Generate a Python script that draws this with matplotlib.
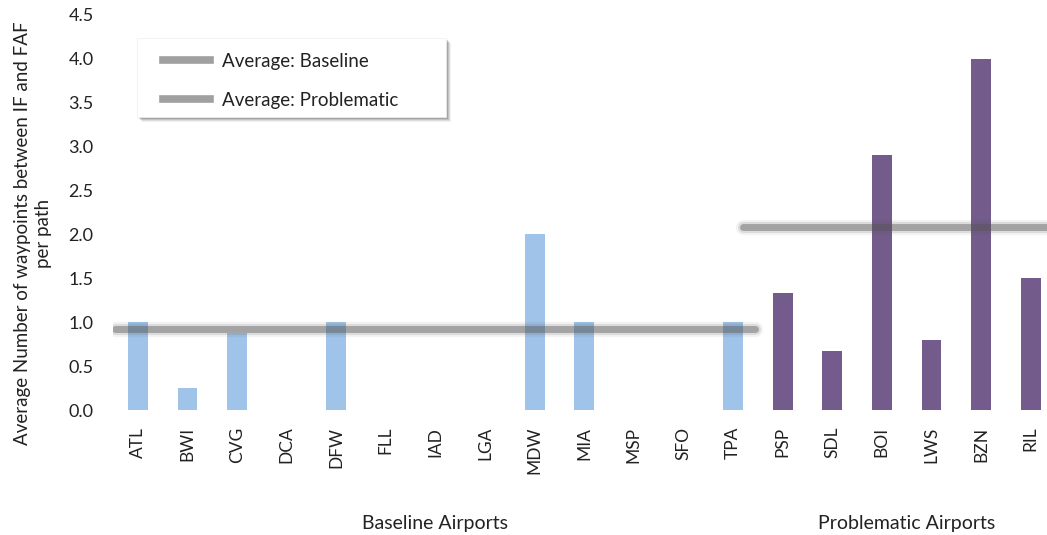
import matplotlib
matplotlib.use("Agg")
import matplotlib.pyplot as plt
from matplotlib.lines import Line2D
from matplotlib.patches import Rectangle

plt.rcParams['font.family'] = ['Lato', 'DejaVu Sans']

baseline_airports = ["ATL", "BWI", "CVG", "DCA", "DFW", "FLL", "IAD", "LGA", "MDW", "MIA", "MSP", "SFO", "TPA"]
baseline_values = [1.0, 0.25, 0.875, 0.0, 1.0, 0.0, 0.0, 0.0, 2.0, 1.0, 0.0, 0.0, 1.0]
problematic_airports = ["PSP", "SDL", "BOI", "LWS", "BZN", "RIL"]
problematic_values = [1.33, 0.67, 2.9, 0.8, 4.0, 1.5]
avg_baseline = 0.92
avg_problematic = 2.09
y_ticks = [0.0, 0.5, 1.0, 1.5, 2.0, 2.5, 3.0, 3.5, 4.0, 4.5]

W, H = 1047, 535
fig = plt.figure(figsize=(W / 100, H / 100), dpi=100)
ax = fig.add_axes([0.108, 0.2336, 0.892, 0.7384])

nb = len(baseline_airports)
np_ = len(problematic_airports)
xb = list(range(nb))
xp = list(range(nb, nb + np_))

ax.bar(xb, baseline_values, width=0.4, color="#9FC3E9", zorder=2)
ax.bar(xp, problematic_values, width=0.4, color="#735C8C", zorder=2)

def soft_line(x0, x1, y):
    for lw, a in [(11, 0.07), (8, 0.14), (5, 0.42)]:
        ax.plot([x0, x1], [y, y], color="#555555", lw=lw, alpha=a,
                solid_capstyle="round", zorder=3)

soft_line(-0.47, nb - 0.55, avg_baseline)
soft_line(nb - 0.8, nb + np_ + 0.4, avg_problematic)

ax.set_xlim(-0.5, 18.33)
ax.set_ylim(0, 4.5)
ax.set_yticks(y_ticks)
ax.set_yticklabels([f"{v:.1f}" for v in y_ticks], fontsize=13, color="#222222")
ax.set_xticks(xb + xp)
ax.set_xticklabels(baseline_airports + problematic_airports, rotation=90,
                   fontsize=12.5, color="#222222")
ax.tick_params(axis="both", length=0)
ax.tick_params(axis="y", pad=14)
ax.tick_params(axis="x", pad=12)
for s in ax.spines.values():
    s.set_visible(False)

fig.text(33 / W, 1 - 233 / H,
         "Average Number of waypoints between IF and FAF\nper path",
         rotation=90, ha="center", va="center", multialignment="center",
         fontsize=13.5, color="#222222", linespacing=1.25)

ax.text((nb - 1) / 2, -1.29, "Baseline Airports", ha="center", va="center",
        fontsize=14, color="#222222", transform=ax.transData, clip_on=False)
ax.text(nb + (np_ - 1) / 2, -1.29, "Problematic Airports", ha="center", va="center",
        fontsize=14, color="#222222", transform=ax.transData, clip_on=False)

# legend frame (drawn in figure pixels) with soft shadow
lx0, ly0, lx1, ly1 = 137, 38, 446, 117
for off, a in [(5, 0.06), (4, 0.08), (3, 0.12), (2, 0.15)]:
    fig.patches.append(Rectangle(((lx0 + off) / W, 1 - (ly1 + off) / H),
                                 (lx1 - lx0) / W, (ly1 - ly0) / H,
                                 transform=fig.transFigure, facecolor="#000000",
                                 alpha=a, edgecolor="none", zorder=5))
fig.patches.append(Rectangle((lx0 / W, 1 - ly1 / H), (lx1 - lx0) / W, (ly1 - ly0) / H,
                             transform=fig.transFigure, facecolor="white",
                             edgecolor="#eeeeee", linewidth=0.5, zorder=6))

handles = [Line2D([0], [0], color="#a0a0a0", lw=5.5),
           Line2D([0], [0], color="#a0a0a0", lw=5.5)]
leg = fig.legend(handles, ["Average: Baseline", "Average: Problematic"],
                 loc="upper left", bbox_to_anchor=(157 / W, 1 - 47 / H), fontsize=13.5,
                 frameon=False, borderpad=0.3, handlelength=2.5, handletextpad=0.64,
                 labelspacing=1.18, borderaxespad=0.0)
leg.set_zorder(7)
for t in leg.get_texts():
    t.set_color("#222222")

fig.savefig("out.png", dpi=100)
